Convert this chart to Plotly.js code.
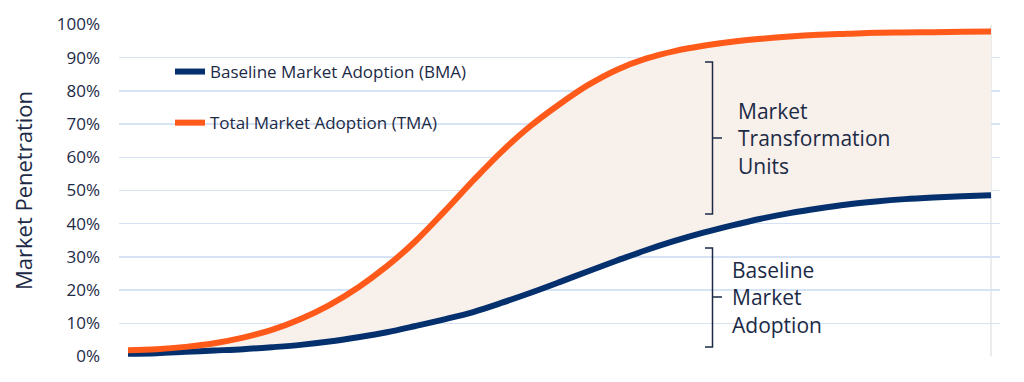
<!DOCTYPE html>
<html>
<head>
<meta charset="utf-8">
<script src="https://cdn.plot.ly/plotly-3.0.1.min.js"></script>
<style>
  html, body { margin: 0; padding: 0; background: #ffffff; }
  #chart { width: 1024px; height: 382px; }
</style>
</head>
<body>
<div id="chart"></div>
<script>
// ---- Data ----
const periods = [0,1,2,3,4,5,6,7,8,9,10,11,12,13,14,15,16,17,18,19,20,21,22,23,24,25,26,27,28,29,30];
const bmaValues = [0.008,0.010,0.014,0.018,0.022,0.028,0.035,0.045,0.058,0.073,0.092,0.112,0.134,0.162,0.192,0.224,0.257,0.289,0.320,0.348,0.373,0.395,0.415,0.432,0.446,0.458,0.467,0.474,0.479,0.483,0.486];
const tmaValues = [0.019,0.022,0.029,0.040,0.057,0.080,0.113,0.155,0.208,0.272,0.348,0.437,0.530,0.618,0.695,0.760,0.818,0.864,0.897,0.920,0.936,0.948,0.957,0.964,0.969,0.972,0.975,0.976,0.977,0.978,0.979];
const seriesNames = ['Baseline Market Adoption (BMA)', 'Total Market Adoption (TMA)'];
const bracketLabels = ['Market<br>Transformation<br>Units', 'Baseline<br>Market<br>Adoption'];
const yAxisTitle = 'Market Penetration';

// ---- Styling ----
const NAVY = '#04306E';
const ORANGE = '#FF5A1A';
const FILL = '#F8F0EA';
const TEXT = '#1C2A46';
const FONT = 'Open Sans, sans-serif';

// pixel -> paper helpers for annotation placement
const W = 1024, H = 382, L = 119, R = 24, T = 24, B = 25;
const pw = W - L - R, ph = H - T - B;
const px = x => (x - L) / pw;
const py = y => (H - B - y) / ph;

const traces = [
  { x: periods, y: bmaValues, mode: 'lines', line: { width: 0, shape: 'spline', color: NAVY },
    showlegend: false, hoverinfo: 'skip' },
  { x: periods, y: tmaValues, mode: 'lines', line: { width: 0, shape: 'spline', color: ORANGE },
    fill: 'tonexty', fillcolor: FILL, showlegend: false, hoverinfo: 'skip' },
  { x: periods, y: bmaValues, name: seriesNames[0], mode: 'lines',
    line: { width: 6, shape: 'spline', color: NAVY }, legendgroup: 'a' },
  { x: periods, y: tmaValues, name: seriesNames[1], mode: 'lines',
    line: { width: 6, shape: 'spline', color: ORANGE }, legendgroup: 'b' }
];

function bracketPath(xv, xl, xr, yt, yb, ym) {
  return `M ${px(xl)} ${py(yt)} L ${px(xv)} ${py(yt)} L ${px(xv)} ${py(yb)} L ${px(xl)} ${py(yb)} ` +
         `M ${px(xv)} ${py(ym)} L ${px(xr)} ${py(ym)}`;
}

const layout = {
  width: W, height: H,
  margin: { l: L, r: R, t: T, b: B },
  paper_bgcolor: '#ffffff', plot_bgcolor: '#ffffff',
  font: { family: FONT, color: TEXT },
  showlegend: true,
  legend: {
    x: px(170), y: py(54), xanchor: 'left', yanchor: 'top',
    bgcolor: 'rgba(0,0,0,0)', font: { size: 17, color: TEXT, family: FONT },
    tracegroupgap: 26, itemwidth: 30, traceorder: 'grouped'
  },
  xaxis: {
    range: [-0.313, 30.313], showgrid: false, zeroline: false, showticklabels: false,
    ticks: '', showline: false, fixedrange: true
  },
  yaxis: {
    range: [-0.0015, 1.0015], dtick: 0.1, tick0: 0, tickformat: '.0%',
    showgrid: true, gridcolor: '#D5E3F5', gridwidth: 1.3, zeroline: false, showline: false,
    ticks: '', ticklabelstandoff: 18,
    tickfont: { size: 17, color: TEXT, family: FONT },
    title: { text: yAxisTitle, font: { size: 22, color: TEXT, family: FONT }, standoff: 18 }
  },
  shapes: [
    { type: 'line', xref: 'x', yref: 'y', x0: periods[periods.length - 1], x1: periods[periods.length - 1],
      y0: 0, y1: 1, line: { color: '#D9D9D9', width: 1 }, layer: 'below' },
    { type: 'path', xref: 'paper', yref: 'paper', path: bracketPath(712.5, 705, 722, 62, 214, 138),
      line: { color: TEXT, width: 1.5 } },
    { type: 'path', xref: 'paper', yref: 'paper', path: bracketPath(712.5, 705, 722, 248, 347, 297),
      line: { color: TEXT, width: 1.5 } }
  ],
  annotations: [
    { xref: 'paper', yref: 'paper', x: px(736), y: py(138), xanchor: 'left', yanchor: 'middle',
      text: bracketLabels[0], showarrow: false, align: 'left',
      font: { size: 21, color: TEXT, family: FONT } },
    { xref: 'paper', yref: 'paper', x: px(730), y: py(297), xanchor: 'left', yanchor: 'middle',
      text: bracketLabels[1], showarrow: false, align: 'left',
      font: { size: 21, color: TEXT, family: FONT } }
  ]
};

Plotly.newPlot('chart', traces, layout, { displayModeBar: false, staticPlot: true });
</script>
</body>
</html>
